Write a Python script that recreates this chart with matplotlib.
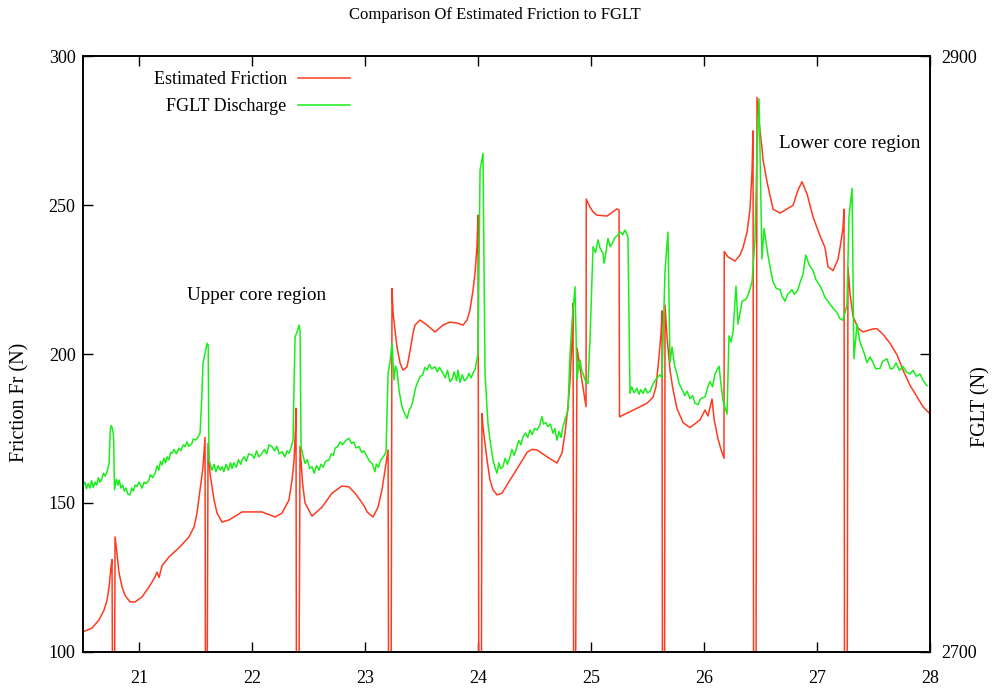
import matplotlib
matplotlib.use('agg')
import matplotlib.pyplot as plt
import numpy as np

plt.rcParams['font.family'] = ['Liberation Serif', 'DejaVu Serif']
plt.rcParams['font.size'] = 13

# Estimated friction (N) along the travel, spikes drop below the axis
fric_x = [20.500, 20.584, 20.646, 20.690, 20.717, 20.735, 20.752, 20.761, 20.770, 20.779,
          20.788, 20.805, 20.823, 20.850, 20.876, 20.920, 20.965, 21.027, 21.088, 21.142,
          21.159, 21.177, 21.204, 21.265, 21.354, 21.442, 21.487, 21.513, 21.540, 21.566,
          21.584, 21.590, 21.598, 21.611, 21.628, 21.664, 21.690, 21.735, 21.796, 21.912,
          22.088, 22.204, 22.265, 22.327, 22.354, 22.372, 22.385, 22.389, 22.395, 22.410,
          22.425, 22.447, 22.469, 22.531, 22.619, 22.708, 22.796, 22.858, 22.912, 22.956,
          22.999, 23.018, 23.071, 23.115, 23.150, 23.177, 23.204, 23.212, 23.228, 23.239,
          23.248, 23.283, 23.310, 23.336, 23.372, 23.398, 23.425, 23.442, 23.487, 23.549,
          23.619, 23.690, 23.752, 23.814, 23.867, 23.903, 23.929, 23.956, 23.973, 23.991,
          24.000, 24.009, 24.027, 24.035, 24.044, 24.080, 24.106, 24.133, 24.168, 24.212,
          24.283, 24.354, 24.434, 24.478, 24.522, 24.611, 24.699, 24.743, 24.770, 24.796,
          24.814, 24.832, 24.841, 24.848, 24.858, 24.876, 24.920, 24.956, 24.958, 24.991,
          25.018, 25.053, 25.142, 25.230, 25.248, 25.252, 25.434, 25.496, 25.549, 25.575,
          25.600, 25.620, 25.628, 25.634, 25.650, 25.655, 25.672, 25.699, 25.725, 25.761,
          25.814, 25.876, 25.965, 26.009, 26.035, 26.071, 26.090, 26.124, 26.150, 26.177,
          26.179, 26.212, 26.274, 26.319, 26.345, 26.381, 26.407, 26.425, 26.434, 26.440,
          26.458, 26.469, 26.487, 26.513, 26.522, 26.558, 26.611, 26.673, 26.788, 26.832,
          26.867, 26.912, 26.965, 27.027, 27.071, 27.097, 27.142, 27.186, 27.204, 27.230,
          27.239, 27.245, 27.265, 27.274, 27.292, 27.319, 27.363, 27.407, 27.496, 27.531,
          27.584, 27.646, 27.708, 27.761, 27.823, 27.885, 27.938, 28.000]
fric_y = [106.7, 108.0, 110.8, 114.0, 117.4, 121.8, 128.5, 131.0, 40.0, 40.0,
          138.6, 133.0, 126.5, 121.8, 119.0, 116.8, 116.8, 118.5, 121.8, 125.2,
          126.8, 125.0, 129.0, 131.9, 135.0, 138.6, 142.0, 146.6, 154.4, 162.0,
          172.0, 40.0, 40.0, 170.0, 160.0, 151.0, 146.6, 143.6, 144.3, 147.0,
          147.0, 145.3, 146.6, 151.0, 157.7, 164.4, 175.5, 181.8, 40.0, 40.0,
          169.0, 156.7, 150.0, 145.6, 148.6, 153.3, 155.7, 155.4, 153.3, 151.0,
          148.6, 147.0, 145.3, 148.6, 154.4, 161.0, 167.8, 40.0, 40.0, 222.0,
          213.8, 202.3, 197.0, 194.6, 195.7, 201.0, 207.0, 209.7, 211.4, 209.7,
          207.4, 209.7, 210.7, 210.4, 209.7, 211.4, 214.8, 221.5, 227.0, 236.0,
          246.6, 40.0, 40.0, 180.0, 175.5, 164.4, 157.7, 154.4, 152.7, 153.3,
          157.7, 162.0, 167.0, 168.0, 167.8, 165.5, 163.4, 166.8, 173.5, 182.3,
          191.0, 204.7, 217.0, 40.0, 40.0, 202.0, 191.0, 182.3, 252.0, 249.3,
          247.7, 246.6, 246.3, 248.7, 248.3, 178.9, 182.3, 183.5, 185.5, 189.0,
          198.4, 207.0, 214.5, 40.0, 40.0, 216.4, 206.1, 194.6, 188.2, 181.7,
          177.0, 175.3, 177.9, 181.2, 179.2, 184.9, 178.0, 171.5, 168.0, 165.0,
          234.4, 232.6, 231.2, 233.2, 235.7, 240.9, 248.6, 261.4, 274.9, 40.0,
          40.0, 286.1, 278.2, 269.1, 265.3, 257.7, 248.6, 247.3, 249.9, 255.0,
          257.8, 253.7, 246.0, 239.6, 235.7, 229.3, 228.0, 231.8, 235.7, 242.3,
          248.6, 40.0, 40.0, 229.3, 220.3, 212.6, 208.7, 207.4, 208.4, 208.5,
          206.6, 203.6, 199.7, 194.6, 189.5, 185.6, 182.3, 179.9]

# FGLT discharge (N)
fglt_x = [20.50, 20.52, 20.535, 20.55, 20.565, 20.58, 20.595, 20.61, 20.625, 20.64,
          20.655, 20.67, 20.685, 20.70, 20.717, 20.735, 20.745, 20.752, 20.765, 20.775,
          20.783, 20.80, 20.815, 20.825, 20.84, 20.855, 20.87, 20.885, 20.90, 20.92,
          20.935, 20.95, 20.965, 20.98, 21.00, 21.027, 21.045, 21.06, 21.088, 21.10,
          21.12, 21.142, 21.16, 21.175, 21.19, 21.204, 21.22, 21.235, 21.248, 21.265,
          21.28, 21.292, 21.31, 21.33, 21.354, 21.37, 21.39, 21.407, 21.425, 21.44,
          21.469, 21.48, 21.50, 21.52, 21.54, 21.555, 21.566, 21.584, 21.602, 21.612,
          21.619, 21.646, 21.665, 21.68, 21.70, 21.72, 21.735, 21.75, 21.77, 21.79,
          21.81, 21.823, 21.84, 21.86, 21.88, 21.90, 21.912, 21.93, 21.95, 21.97,
          22.00, 22.02, 22.04, 22.06, 22.088, 22.11, 22.13, 22.15, 22.177, 22.20,
          22.22, 22.24, 22.265, 22.29, 22.31, 22.327, 22.345, 22.363, 22.372, 22.381,
          22.40, 22.416, 22.425, 22.434, 22.45, 22.469, 22.49, 22.51, 22.531, 22.55,
          22.57, 22.593, 22.61, 22.63, 22.65, 22.681, 22.70, 22.72, 22.735, 22.76,
          22.78, 22.80, 22.83, 22.858, 22.88, 22.90, 22.92, 22.947, 22.97, 22.99,
          23.018, 23.04, 23.062, 23.075, 23.088, 23.10, 23.12, 23.133, 23.15, 23.17,
          23.186, 23.204, 23.22, 23.239, 23.257, 23.27, 23.283, 23.30, 23.327, 23.35,
          23.372, 23.39, 23.41, 23.425, 23.45, 23.487, 23.51, 23.53, 23.549, 23.57,
          23.59, 23.619, 23.64, 23.66, 23.69, 23.71, 23.73, 23.752, 23.77, 23.79,
          23.81, 23.823, 23.84, 23.86, 23.88, 23.903, 23.92, 23.94, 23.96, 23.973,
          24.000, 24.018, 24.044, 24.062, 24.088, 24.11, 24.133, 24.15, 24.168, 24.185,
          24.20, 24.221, 24.24, 24.26, 24.283, 24.30, 24.32, 24.345, 24.36, 24.38,
          24.398, 24.42, 24.44, 24.46, 24.48, 24.50, 24.522, 24.545, 24.566, 24.58,
          24.60, 24.619, 24.64, 24.664, 24.68, 24.699, 24.717, 24.735, 24.752, 24.77,
          24.796, 24.814, 24.832, 24.858, 24.876, 24.89, 24.903, 24.92, 24.929, 24.95,
          24.973, 24.991, 25.018, 25.04, 25.062, 25.08, 25.106, 25.115, 25.124, 25.15,
          25.17, 25.195, 25.21, 25.239, 25.26, 25.28, 25.301, 25.327, 25.345, 25.36,
          25.38, 25.407, 25.425, 25.44, 25.46, 25.48, 25.50, 25.522, 25.549, 25.584,
          25.61, 25.628, 25.655, 25.681, 25.699, 25.717, 25.74, 25.761, 25.78, 25.805,
          25.83, 25.85, 25.876, 25.90, 25.92, 25.947, 25.97, 26.009, 26.03, 26.053,
          26.075, 26.097, 26.133, 26.15, 26.168, 26.204, 26.221, 26.24, 26.257, 26.283,
          26.301, 26.32, 26.336, 26.36, 26.381, 26.40, 26.425, 26.451, 26.469, 26.487,
          26.513, 26.531, 26.566, 26.59, 26.611, 26.64, 26.673, 26.69, 26.717, 26.74,
          26.779, 26.80, 26.832, 26.85, 26.876, 26.90, 26.93, 26.965, 26.99, 27.027,
          27.05, 27.07, 27.097, 27.12, 27.15, 27.177, 27.20, 27.230, 27.265, 27.283,
          27.310, 27.327, 27.354, 27.38, 27.398, 27.42, 27.442, 27.47, 27.496, 27.52,
          27.558, 27.58, 27.619, 27.65, 27.673, 27.70, 27.73, 27.761, 27.79, 27.823,
          27.85, 27.88, 27.912, 27.94, 27.973]
fglt_y = [2755.5, 2757.0, 2754.8, 2756.5, 2755.0, 2757.5, 2755.2, 2757.0, 2756.0, 2758.5,
          2757.0, 2758.0, 2760.0, 2759.0, 2760.5, 2763.4, 2774.0, 2776.0, 2775.0, 2772.0,
          2754.4, 2758.0, 2756.0, 2757.7, 2755.0, 2756.0, 2754.0, 2755.0, 2753.0, 2752.7,
          2755.0, 2754.0, 2756.0, 2755.5, 2757.0, 2755.0, 2757.0, 2756.5, 2757.7, 2759.5,
          2758.5, 2760.0, 2762.5, 2761.0, 2764.0, 2762.8, 2765.0, 2763.5, 2765.5, 2764.5,
          2767.0, 2766.7, 2768.0, 2766.5, 2768.4, 2767.5, 2769.5, 2768.9, 2770.5, 2769.0,
          2770.0, 2771.5, 2771.1, 2772.0, 2773.4, 2785.0, 2796.9, 2800.2, 2803.6, 2803.0,
          2764.4, 2761.0, 2763.0, 2760.5, 2762.5, 2761.0, 2762.2, 2760.5, 2763.0, 2761.0,
          2763.5, 2761.6, 2763.5, 2762.0, 2764.5, 2763.0, 2764.4, 2765.5, 2764.0, 2766.5,
          2766.1, 2765.0, 2767.5, 2765.5, 2766.7, 2768.0, 2766.5, 2769.5, 2768.9, 2767.5,
          2769.0, 2766.5, 2767.2, 2765.5, 2767.5, 2766.7, 2768.5, 2771.1, 2790.0, 2805.8,
          2807.5, 2809.7, 2808.0, 2768.9, 2766.0, 2763.3, 2764.5, 2761.5, 2762.2, 2760.0,
          2762.5, 2761.0, 2763.0, 2762.0, 2764.0, 2764.4, 2766.5, 2766.0, 2768.4, 2769.0,
          2770.5, 2769.5, 2771.0, 2771.7, 2770.0, 2770.5, 2768.5, 2768.9, 2767.0, 2767.5,
          2765.5, 2764.0, 2763.3, 2762.0, 2760.5, 2763.0, 2762.0, 2763.9, 2765.0, 2766.0,
          2767.2, 2793.5, 2797.0, 2803.6, 2791.3, 2796.0, 2794.6, 2788.0, 2782.3, 2780.0,
          2778.4, 2781.0, 2782.5, 2784.6, 2789.0, 2792.4, 2793.0, 2795.5, 2794.6, 2796.5,
          2795.0, 2795.7, 2794.0, 2795.5, 2793.5, 2792.0, 2794.5, 2790.7, 2791.5, 2794.0,
          2791.0, 2794.6, 2790.5, 2793.0, 2791.0, 2791.9, 2793.5, 2792.0, 2794.0, 2794.6,
          2800.2, 2861.7, 2867.3, 2793.5, 2776.7, 2770.0, 2764.4, 2762.0, 2760.0, 2763.5,
          2761.5, 2762.2, 2765.0, 2763.0, 2765.5, 2768.0, 2766.0, 2768.9, 2771.0, 2769.5,
          2772.2, 2773.5, 2772.0, 2774.5, 2773.0, 2775.0, 2774.5, 2776.0, 2779.0, 2776.5,
          2777.0, 2775.6, 2776.5, 2773.4, 2775.0, 2771.1, 2774.0, 2772.0, 2775.6, 2778.0,
          2781.2, 2800.0, 2810.3, 2822.6, 2791.3, 2796.0, 2798.0, 2794.0, 2793.5, 2791.0,
          2790.1, 2804.7, 2836.0, 2834.0, 2838.3, 2835.5, 2833.8, 2830.5, 2832.1, 2838.8,
          2836.0, 2837.7, 2839.0, 2839.9, 2841.0, 2840.0, 2841.6, 2839.4, 2786.8, 2789.0,
          2787.0, 2788.5, 2786.5, 2788.0, 2786.8, 2788.5, 2787.0, 2787.4, 2790.0, 2792.0,
          2793.0, 2792.0, 2828.0, 2840.9, 2797.1, 2802.3, 2796.0, 2793.3, 2790.0, 2788.2,
          2786.0, 2787.5, 2785.0, 2786.0, 2783.5, 2783.0, 2785.0, 2785.6, 2788.5, 2790.7,
          2789.0, 2793.3, 2795.9, 2790.0, 2784.3, 2779.8, 2806.1, 2804.0, 2807.4, 2822.8,
          2810.0, 2814.0, 2817.7, 2818.0, 2819.0, 2821.0, 2824.2, 2838.3, 2867.9, 2885.6,
          2831.9, 2842.1, 2833.2, 2828.0, 2824.2, 2822.0, 2821.6, 2819.5, 2817.7, 2820.0,
          2821.6, 2820.0, 2821.6, 2824.0, 2826.7, 2833.2, 2830.0, 2828.0, 2825.0, 2822.8,
          2821.0, 2819.0, 2817.7, 2816.5, 2815.0, 2813.9, 2812.0, 2811.3, 2816.4, 2846.0,
          2855.6, 2798.4, 2810.0, 2804.0, 2802.3, 2800.0, 2797.1, 2799.0, 2797.1, 2795.0,
          2795.2, 2797.5, 2798.4, 2795.0, 2795.2, 2797.0, 2794.5, 2795.9, 2794.0, 2793.3,
          2794.5, 2792.5, 2793.3, 2791.0, 2789.4]

x_ticks = [21, 22, 23, 24, 25, 26, 27, 28]
y_ticks = [100, 150, 200, 250, 300]
y2_ticks = [2700, 2800, 2900]
y2_labels = ['2700', '', '2900']

red = '#ff3b1f'
green = '#1aee1a'

fig = plt.figure(figsize=(9.92, 6.9), dpi=100)
ax = fig.add_axes([0.0832, 0.0551, 0.8543, 0.8637])
ax2 = ax.twinx()

l1, = ax.plot(fric_x, fric_y, color=red, lw=1.1, label='Estimated Friction')
l2, = ax2.plot(fglt_x, fglt_y, color=green, lw=1.1, label='FGLT Discharge')

ax.set_xlim(20.5, 28)
ax.set_ylim(100, 300)
ax2.set_ylim(2700, 2900)

ax.set_xticks(x_ticks)
ax.set_yticks(y_ticks)
ax2.set_yticks(y2_ticks)
ax2.set_yticklabels(y2_labels)

ax.tick_params(axis='x', direction='in', length=7, width=1, top=True, pad=13)
ax.tick_params(axis='y', direction='in', length=7, width=1, right=False, pad=5)
ax2.tick_params(axis='y', direction='in', length=7, width=1, pad=8)
for a in (ax, ax2):
    for s in a.spines.values():
        s.set_linewidth(1.2)

ax.set_ylabel('Friction Fr (N)', fontsize=14.5)
ax.yaxis.set_label_coords(-0.063, 0.418)
ax2.set_ylabel('FGLT (N)', fontsize=14.5)
ax2.yaxis.set_label_coords(1.049, 0.411)

fig.text(0.499, 1 - 15 / 690, 'Comparison Of Estimated Friction to FGLT',
         ha='center', va='center', fontsize=12)

ax.text(22.04, 219.5, 'Upper core region', ha='center', va='center', fontsize=13.8)
ax.text(27.29, 270.8, 'Lower core region', ha='center', va='center', fontsize=13.8)

ax2.legend([l1, l2], ['Estimated Friction', 'FGLT Discharge'], loc='upper right',
           bbox_to_anchor=(0.3155, 0.975), markerfirst=False, frameon=False,
           handlelength=2.9, handletextpad=0.6, labelspacing=0.55,
           borderpad=0, borderaxespad=0)

fig.savefig('out.png', dpi=100)
